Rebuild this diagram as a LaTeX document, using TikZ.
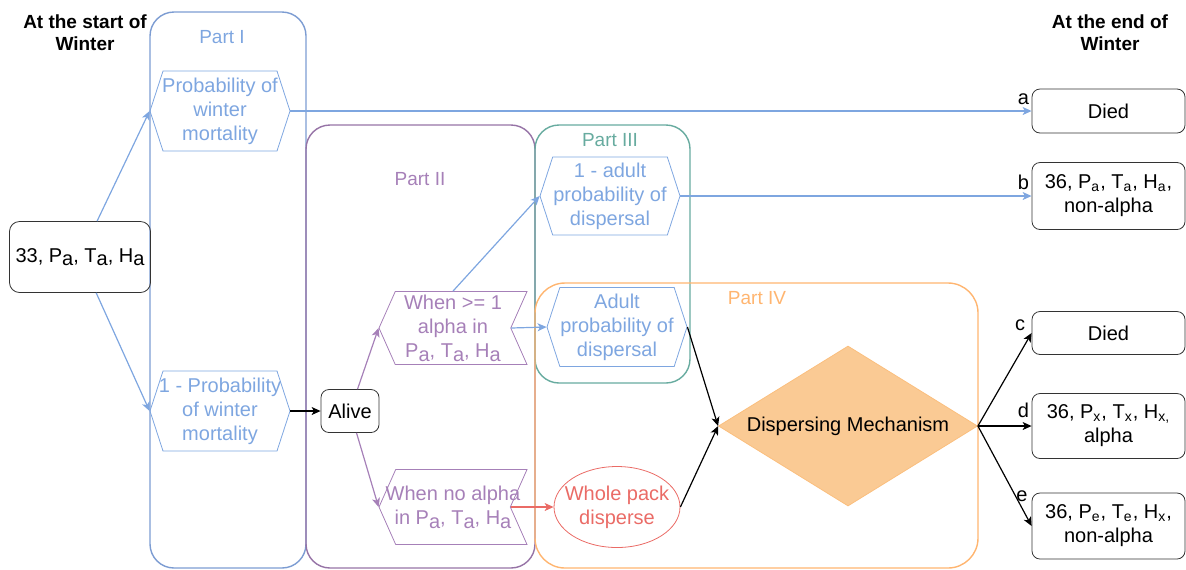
\documentclass[tikz,border=0pt]{standalone}
\usepackage{fontspec}
\setmainfont{Liberation Sans}
\usetikzlibrary{shapes.symbols,shapes.geometric,arrows.meta}

\definecolor{blueline}{HTML}{7EA6E0}
\definecolor{bluebox}{HTML}{7C9CD2}
\definecolor{purpline}{HTML}{A680B8}
\definecolor{purpbox}{HTML}{9673A6}
\definecolor{greenbox}{HTML}{67AB9F}
\definecolor{orangebox}{HTML}{FFB570}
\definecolor{redline}{HTML}{EA6B66}
\definecolor{dmfill}{HTML}{FACA94}

\newcommand{\lowsub}[1]{\raisebox{-0.35ex}{#1}}

\tikzset{
	>={Stealth[length=4.5pt,width=4pt,inset=1.2pt]},
	part/.style={line width=0.7pt, rounded corners=12pt},
	partlabel/.style={font=\fontsize{9.5}{11}\selectfont},
	heading/.style={font=\bfseries\fontsize{9.5}{11}\selectfont, align=center},
	box/.style={draw=black!80, line width=0.4pt, rounded corners=4pt, align=center, inner sep=0pt},
	hexa/.style={shape=signal, signal to=west and east, signal pointer angle=144,
		draw=blueline, line width=0.4pt, inner sep=0pt,
		minimum width=70pt, minimum height=40pt},
	hexatext/.style={text=blueline, align=center, inner sep=0pt},
	whenbox/.style={shape=signal, signal to=west, signal from=east, signal pointer angle=132,
		draw=purpline, line width=0.4pt, inner sep=0pt,
		minimum width=74pt, minimum height=36.5pt},
	whentext/.style={text=purpline, align=center, inner sep=0pt},
	blue arc/.style={->, draw=blueline, line width=0.6pt},
	black arc/.style={->, draw=black, line width=0.6pt},
}

\begin{document}
\begin{tikzpicture}[x=0.5pt, y=-0.5pt, font=\fontsize{10}{12}\selectfont]
\useasboundingbox (0,0) rectangle (1186,569);

% PARTS
\draw[part, draw=bluebox] (150,12) rectangle (306,568);
\draw[part, draw=purpbox] (306,125) rectangle (535,568);
\draw[part, draw=greenbox] (535,125) rectangle (690,383);
\draw[part, draw=orangebox, rounded corners=15pt] (535,283) rectangle (978,568);

\node[partlabel, text=blueline](p1) at(222, 37) {Part I};
\node[partlabel, text=purpline](p2) at(420, 179) {Part II};
\node[partlabel, text=greenbox](p3) at(610, 140) {Part III};
\node[partlabel, text=orangebox](p4) at(757, 298) {Part IV};

% NODES
\node[heading](start title) at(85, 33) {At the start of\\Winter};
\node[heading](end title) at(1110, 33) {At the end of\\Winter};

\node[box, rounded corners=5pt, minimum width=70.5pt, minimum height=35.5pt](start) at(80, 257)
	{33, P\lowsub{a}, T\lowsub{a}, H\lowsub{a}};

\node[hexa, label={[hexatext]center:Probability of\\winter\\mortality}](pw) at(220, 111) {};
\node[hexa, label={[hexatext]center:1 - Probability\\of winter\\mortality}](ipw) at(220, 411) {};

\node[box, minimum width=29pt, minimum height=21.5pt](alive) at(350, 411) {Alive};

\node[whenbox, label={[whentext]center:When >= 1\\alpha in\\P\lowsub{a}, T\lowsub{a}, H\lowsub{a}}](w1) at(453, 328) {};
\node[whenbox, minimum height=37.5pt,
	label={[whentext]center:When no alpha\\in P\lowsub{a}, T\lowsub{a}, H\lowsub{a}}](w0) at(453, 507) {};

\node[hexa, minimum height=39pt, label={[hexatext]center:1 - adult\\probability of\\dispersal}](ad1) at(610, 196) {};
\node[hexa, minimum height=39.5pt, label={[hexatext]center:Adult\\probability of\\dispersal}](adp) at(617, 327) {};

\node[ellipse, draw=redline, line width=0.4pt, inner sep=0pt, minimum width=63pt, minimum height=40.5pt,
	label={[text=redline, align=center, inner sep=0pt]center:Whole pack\\disperse}](wp) at(617, 507) {};

\node[diamond, fill=dmfill, draw=dmfill!85!orange, line width=0.4pt, inner sep=0pt,
	shape aspect=1.6, minimum width=129.5pt, minimum height=80pt](dm) at(848, 426) {Dispersing Mechanism};

\node[box, minimum width=76.5pt, minimum height=22pt](ra) at(1108.5, 111) {Died};
\node[box, minimum width=76.5pt, minimum height=33.5pt](rb) at(1108.5, 196)
	{36, P\textsubscript{a}, T\textsubscript{a}, H\textsubscript{a},\\non-alpha};
\node[box, minimum width=76.5pt, minimum height=21.5pt](rc) at(1108.5, 333) {Died};
\node[box, minimum width=76.5pt, minimum height=32.5pt](rd) at(1108.5, 426)
	{36, P\textsubscript{x}, T\textsubscript{x}, H\textsubscript{x,}\\alpha};
\node[box, minimum width=76.5pt, minimum height=33pt](re) at(1108.5, 526)
	{36, P\textsubscript{e}, T\textsubscript{e}, H\textsubscript{x},\\non-alpha};

% ARCS
\draw[blue arc] (start) -- (pw.west);
\draw[blue arc] (start) -- (ipw.west);
\draw[blue arc] (pw.east) -- (ra.west) node[pos=1, above left, inner sep=1pt, yshift=2pt, text=black] {a};
\draw[black arc] (ipw.east) -- (alive.west);

\draw[->, draw=purpline, line width=0.6pt] (alive) -- (w1.west);
\draw[->, draw=purpline, line width=0.6pt] (alive) -- (w0.west);

\draw[blue arc] (w1.north) -- (ad1.west);
\draw[blue arc] (w1.east) -- (adp.west);
\draw[->, draw=redline, line width=0.6pt] (w0.east) -- (wp.west);

\draw[blue arc] (ad1.east) -- (rb.west) node[pos=1, above left, inner sep=1pt, yshift=2pt] {b};

\draw[black arc] (adp.east) -- (dm.west);
\draw[black arc] (wp.east) -- (dm.west);

\draw[black arc] (dm.east) -- (rc.west) node[pos=1, above left, inner sep=1pt, xshift=-2pt] {c};
\draw[black arc] (dm.east) -- (rd.west) node[pos=1, above left, inner sep=1pt, yshift=3pt] {d};
\draw[black arc] (dm.east) -- (re.west) node[pos=0.82, above, inner sep=1pt, yshift=2pt] {e};

\end{tikzpicture}
\end{document}
